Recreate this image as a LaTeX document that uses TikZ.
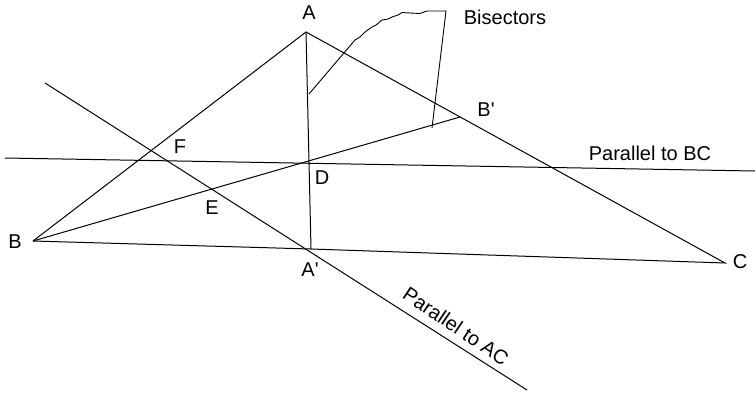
\documentclass[tikz,border=0pt]{standalone}
\usepackage{fontspec}
\setmainfont{Liberation Sans}
\begin{document}
\begin{tikzpicture}[x=1pt,y=-1pt,
  ln/.style={line width=1pt,line join=miter},
  lbl/.style={font=\fontsize{20}{24}\selectfont,inner sep=0pt}]
\useasboundingbox (0,0) rectangle (755,392);
% points
\coordinate (A) at (306,32);
\coordinate (B) at (33,241);
\coordinate (C) at (725,263);
\coordinate (Ap) at (311,249);
\coordinate (Bp) at (460,117);
\coordinate (P1) at (5,158);
\coordinate (P2) at (755,171);
\coordinate (Q1) at (45,83);
\coordinate (Q2) at (527,390);
\coordinate (M1) at (309,94);
\coordinate (M2) at (432,128);
% triangle
\draw[ln] (B) -- (A) -- (C) -- (Ap) -- (B);
% bisectors
\draw[ln] (A) -- (Ap);
\draw[ln] (B) -- (Bp);
% parallels
\draw[ln] (P1) -- (P2);
\draw[ln] (Q1) -- (Q2);
% pointer to bisectors
\draw[line width=0.9pt] (M1) -- (355,40) -- (360,37) -- (365,32) -- (372,27) -- (376,25) -- (382,20) -- (388,19) -- (392,17) -- (398,15) -- (402,12.5) -- (410,13) -- (420,13.5) -- (424,12) -- (427,11) -- (446,11) -- (M2);
% labels
\node[lbl] (lA) at (309,13) {A};
\node[lbl] (lB) at (15,242) {B};
\node[lbl] (lC) at (740,262) {C};
\node[lbl] (lAp) at (310,270) {A\textquotesingle};
\node[lbl] (lBp) at (486,110) {B\textquotesingle};
\node[lbl] (lD) at (322,178) {D};
\node[lbl] (lE) at (212,208) {E};
\node[lbl] (lF) at (180,147) {F};
\node[lbl] (lBis) at (505,17) {Bisectors};
\node[lbl] (lPBC) at (650,153) {Parallel to BC};
\node[lbl,rotate=-34] (lPAC) at (456,326) {Parallel to AC};
\end{tikzpicture}
\end{document}
